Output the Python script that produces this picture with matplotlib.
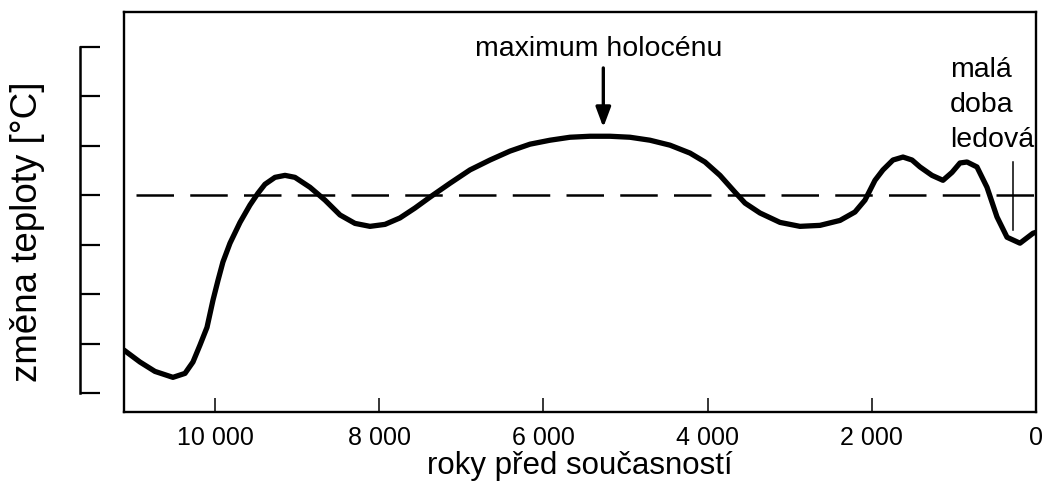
import numpy as np
import matplotlib
matplotlib.use("Agg")
import matplotlib.pyplot as plt
from matplotlib import font_manager

# data (years before present, relative temperature)
years = [11108, 10914, 10731, 10512, 10365, 10268, 10183, 10097, 10024, 9963,
         9903, 9817, 9695, 9574, 9476, 9391, 9269, 9147, 9026, 8843,
         8660, 8477, 8295, 8112, 7929, 7747, 7564, 7381, 7138, 6894,
         6650, 6407, 6163, 5920, 5676, 5432, 5189, 4945, 4702, 4458,
         4214, 4032, 3849, 3666, 3544, 3362, 3118, 2875, 2631, 2387,
         2205, 2083, 1961, 1864, 1742, 1620, 1510, 1413, 1267, 1133,
         1023, 926, 840, 719, 597, 475, 353, 195, 37, 0]
temp = [-3.13, -3.37, -3.56, -3.68, -3.60, -3.37, -3.03, -2.67, -2.12, -1.72,
        -1.35, -0.97, -0.55, -0.20, 0.04, 0.22, 0.36, 0.40, 0.36, 0.16,
        -0.10, -0.40, -0.57, -0.63, -0.59, -0.46, -0.26, -0.04, 0.24, 0.51,
        0.71, 0.89, 1.03, 1.11, 1.17, 1.19, 1.19, 1.17, 1.11, 1.01,
        0.85, 0.67, 0.40, 0.06, -0.16, -0.36, -0.55, -0.63, -0.61, -0.51,
        -0.34, -0.10, 0.30, 0.51, 0.71, 0.77, 0.71, 0.57, 0.40, 0.30,
        0.46, 0.65, 0.67, 0.57, 0.16, -0.44, -0.85, -0.97, -0.77, -0.75]

xticks = [10000, 8000, 6000, 4000, 2000, 0]
xticklabels = ["10 000", "8 000", "6 000", "4 000", "2 000", "0"]
yticks = [-4, -3, -2, -1, 0, 1, 2, 3]

max_year = 5270      # maximum holocénu arrow
lia_year = 280       # malá doba ledová marker

names = {f.name for f in font_manager.fontManager.ttflist}
narrow = "Liberation Sans Narrow" if "Liberation Sans Narrow" in names else "Liberation Sans"
plt.rcParams["font.family"] = ["Liberation Sans", "DejaVu Sans"]

W, H = 1046, 495
fig = plt.figure(figsize=(W / 100, H / 100), dpi=100)
bottom = (H - 412) / H
height = 400 / H
ax = fig.add_axes([124 / W, bottom, 912 / W, height])

ylim = (-4.38, 3.70)
ax.set_xlim(11108, 0)
ax.set_ylim(*ylim)

ax.plot(years, temp, color="black", lw=3.8, solid_capstyle="round", solid_joinstyle="round")
ax.plot([10960, 0], [0, 0], color="black", lw=1.8, dashes=(15, 6.5))
ax.plot([lia_year, lia_year], [0.67, -0.71], color="black", lw=1.1)

ax.annotate("", xy=(max_year, 1.37), xytext=(max_year, 2.57),
            arrowprops=dict(arrowstyle="-|>,head_length=1.2,head_width=0.45",
                            color="black", lw=2.4, shrinkA=0, shrinkB=0))
ax.text(5330, 2.95, "maximum holocénu", ha="center", va="center", fontsize=20.5)
ax.text(1050, 2.80, "malá\ndoba\nledová", ha="left", va="top", fontsize=20.5,
        linespacing=1.45)

ax.set_xticks(xticks)
ax.set_xticklabels(xticklabels, fontsize=18, family=narrow)
ax.tick_params(axis="x", direction="in", length=10, width=1.1, pad=10)
ax.set_yticks([])
for s in ax.spines.values():
    s.set_linewidth(1.7)
ax.set_xlabel("roky před současností", fontsize=22.5, labelpad=1)

# separate scale bracket on the left
ax2 = fig.add_axes([80 / W, bottom, 20 / W, height])
ax2.set_ylim(*ylim)
ax2.set_xticks([])
ax2.set_yticks(yticks)
ax2.set_yticklabels([])
ax2.tick_params(axis="y", direction="in", length=14.5, width=1.6)
for k in ["top", "right", "bottom"]:
    ax2.spines[k].set_visible(False)
ax2.spines["left"].set_linewidth(1.8)
ax2.spines["left"].set_bounds(yticks[0], yticks[-1])
ax2.patch.set_alpha(0)

fig.text(28 / W, (H - 232) / H, "změna teploty [°C]", rotation=90,
         ha="center", va="center", fontsize=26.5)

fig.savefig("out.png", dpi=100)
